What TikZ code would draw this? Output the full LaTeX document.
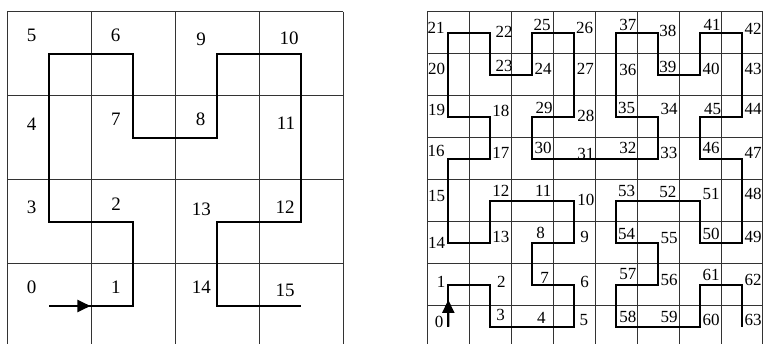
\documentclass[tikz,border=0pt]{standalone}
\usepackage{fontspec}
\setmainfont{Liberation Serif}
\usetikzlibrary{arrows.meta,calc}
\begin{document}
\begin{tikzpicture}[x=1pt,y=-1pt,
    gridline/.style={line width=0.9pt, black!80},
    curve/.style={line width=2pt, line join=miter},
    numa/.style={inner sep=0pt, font=\fontsize{19}{22}\selectfont},
    numb/.style={inner sep=0pt, font=\fontsize{17}{20}\selectfont},
    tip/.style={-{Triangle[length=13pt,width=12pt]}}]
    \useasboundingbox (0,0) rectangle (763,343);
    % left grid, 4x4
    \foreach \i in {0,...,4} {
        \draw[gridline] (7.3+84*\i,11.7) -- (7.3+84*\i,350);
    }
    \foreach \j in {0,...,3} {
        \draw[gridline] (7.3,11.7+84*\j) -- (343.3,11.7+84*\j);
    }
    % right grid, 8x8
    \foreach \i in {0,...,8} {
        \draw[gridline] (427.3+41.95*\i,11.7) -- (427.3+41.95*\i,350);
    }
    \foreach \j in {0,...,7} {
        \draw[gridline] (427.3,11.7+41.95*\j) -- (770,11.7+41.95*\j);
    }
    % curve points
    \foreach \c/\r [count=\k from 0] in {0/0,1/0,1/1,0/1,0/2,0/3,1/3,1/2,
        2/2,2/3,3/3,3/2,3/1,2/1,2/0,3/0} {
        \coordinate (a\k) at (49.3+84*\c,306-84*\r);
    }
    \foreach \c/\r [count=\k from 0] in {0/0,0/1,1/1,1/0,2/0,3/0,3/1,2/1,
        2/2,3/2,3/3,2/3,1/3,1/2,0/2,0/3,0/4,1/4,1/5,0/5,0/6,0/7,1/7,1/6,
        2/6,2/7,3/7,3/6,3/5,2/5,2/4,3/4,4/4,5/4,5/5,4/5,4/6,4/7,5/7,5/6,
        6/6,6/7,7/7,7/6,7/5,6/5,6/4,7/4,7/3,7/2,6/2,6/3,5/3,4/3,4/2,5/2,
        5/1,4/1,4/0,5/0,6/0,6/1,7/1,7/0} {
        \coordinate (b\k) at (448.3+41.95*\c,326.7-41.95*\r);
    }
    \draw[curve] (a0) \foreach \k in {1,...,15} {-- (a\k)};
    \draw[curve] (b0) \foreach \k in {1,...,63} {-- (b\k)};
    \coordinate (atip) at ($(a0)!0.49!(a1)$);
    \coordinate (btip) at ($(b0)!0.64!(b1)$);
    \draw[curve, tip] (a0) -- (atip);
    \draw[curve, tip] (b0) -- (btip);
    % labels
    \foreach \n/\x/\y in {0/31.7/287.5,1/115.8/287.5,2/116/204,3/31.7/207,
        4/31.7/124.5,5/31.7/35,6/115.7/35,7/115.8/119,8/200.5/119.7,
        9/201/39,10/289/38,11/286/122.8,12/285/207,13/201.3/208.8,
        14/201.3/287,15/285/290} {
        \node[numa] (na\n) at (\x,\y) {\n};
    }
    \foreach \n/\x/\y in {0/439/321.5,1/441/282,2/501.3/282,3/500.5/315,
        4/541.3/318,5/583.8/320,6/584.5/282,7/544.7/278,8/540.5/233,
        9/584.5/237,10/585.8/199.7,11/543.3/190.5,12/500.8/190.5,
        13/500.8/237,14/436.7/242.5,15/436.7/195.5,16/436.2/150.8,
        17/500.8/152.5,18/500.8/111,19/436.7/110,20/436.7/69,21/436.2/28.3,
        22/504.2/32,23/504.2/66,24/543/69,25/542.2/25,26/584.5/27.5,
        27/585.3/69,28/585.8/115.8,29/544.2/107.5,30/543/147.5,31/585.8/154,
        32/627.8/147.5,33/668.8/152.5,34/669.2/109,35/626.7/107.5,
        36/627.8/70,37/627.8/25,38/667.8/31,39/667.8/67,40/711.2/69,
        41/712/25,42/753/29,43/753/69,44/753/109,45/712.5/109,46/711.2/147.5,
        47/753/152.5,48/753/194,49/753/237,50/711.2/234,51/711.2/194,
        52/667.8/192,53/626.7/190.5,54/626.7/234,55/669.2/238,56/669.2/280,
        57/627.8/274,58/627.8/317,59/669.2/317,60/711.2/320,61/711.2/275,
        62/753/280,63/753/320} {
        \node[numb] (nb\n) at (\x,\y) {\n};
    }
\end{tikzpicture}
\end{document}
